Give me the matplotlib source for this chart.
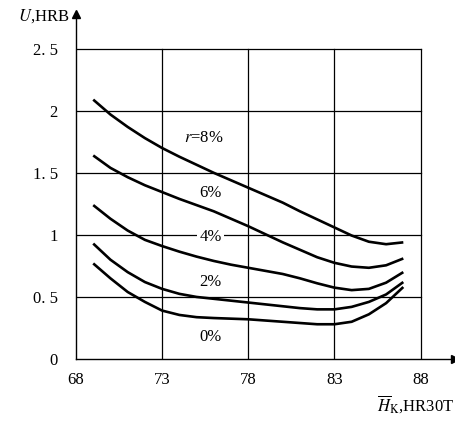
import matplotlib.pyplot as plt

plt.rcParams['font.family'] = ['Liberation Serif', 'DejaVu Serif']
plt.rcParams['mathtext.fontset'] = 'stix'

# hardness HR30T
hk = [69, 70, 71, 72, 73, 74, 75, 76, 77, 78, 79, 80, 81, 82, 83, 84, 85, 86, 87]

# U, HRB for each reduction r
u_0 = [0.77, 0.65, 0.54, 0.46, 0.39, 0.355, 0.337, 0.33, 0.325, 0.32, 0.31, 0.30,
       0.29, 0.28, 0.28, 0.30, 0.36, 0.45, 0.58]
u_2 = [0.93, 0.80, 0.70, 0.62, 0.565, 0.525, 0.50, 0.485, 0.47, 0.455, 0.44, 0.425,
       0.41, 0.40, 0.40, 0.42, 0.46, 0.52, 0.62]
u_4 = [1.24, 1.13, 1.035, 0.96, 0.91, 0.865, 0.825, 0.79, 0.76, 0.735, 0.71, 0.685,
       0.65, 0.61, 0.575, 0.555, 0.565, 0.615, 0.70]
u_6 = [1.64, 1.54, 1.465, 1.40, 1.345, 1.29, 1.24, 1.19, 1.13, 1.07, 1.005, 0.94,
       0.88, 0.82, 0.775, 0.745, 0.735, 0.755, 0.81]
u_8 = [2.09, 1.97, 1.87, 1.78, 1.70, 1.63, 1.565, 1.50, 1.44, 1.38, 1.32, 1.26,
       1.19, 1.125, 1.06, 0.995, 0.945, 0.925, 0.94]

curves = [u_0, u_2, u_4, u_6, u_8]
labels = ['0%', '2%', '4%', '6%', '$r$=8%']
label_x = [75.8, 75.8, 75.8, 75.8, 75.4]
label_y = [0.18, 0.62, 0.98, 1.34, 1.78]

xticks = [68, 73, 78, 83, 88]
yticks = [0, 0.5, 1, 1.5, 2, 2.5]
ytick_labels = ['0', '0. 5', '1', '1. 5', '2', '2. 5']

fig = plt.figure(figsize=(4.56, 4.22), dpi=100)
ax = fig.add_axes([76 / 456, 63 / 422, 379 / 456, 345 / 422])
ax.set_xlim(68, 90)
ax.set_ylim(0, 2.78)

# grid
for y in yticks[1:]:
    ax.plot([68, 88], [y, y], color='black', lw=0.9, zorder=1)
for x in xticks[1:]:
    ax.plot([x, x], [0, 2.5], color='black', lw=0.9, zorder=1)

for u in curves:
    ax.plot(hk, u, color='black', lw=1.9, solid_capstyle='butt',
            solid_joinstyle='round', zorder=3)

for lab, x, y in zip(labels, label_x, label_y):
    bbox = None
    if lab == '4%':
        bbox = dict(facecolor='white', edgecolor='none', pad=1.5)
    ax.text(x, y, lab, ha='center', va='center', fontsize=12, bbox=bbox, zorder=4)

for s in ['top', 'right']:
    ax.spines[s].set_visible(False)
ax.spines['left'].set_linewidth(1.0)
ax.spines['bottom'].set_linewidth(1.0)
ax.plot(1, 0, '>k', transform=ax.transAxes, clip_on=False, markersize=6)
ax.plot(0, 1, '^k', transform=ax.transAxes, clip_on=False, markersize=6)

ax.set_xticks(xticks)
ax.set_yticks(yticks)
ax.set_yticklabels(ytick_labels)
ax.tick_params(axis='y', length=0, labelsize=12, pad=13)
ax.tick_params(axis='x', length=0, labelsize=12, pad=9)

fig.text(70 / 456, 1 - 16 / 422, '$U$,HRB', ha='right', va='center', fontsize=12)
fig.text(454 / 456, 1 - 404 / 422, r'$\overline{H}_{\mathrm{K}}$,HR30T',
         ha='right', va='center', fontsize=12)

fig.savefig('out.png', dpi=100)
